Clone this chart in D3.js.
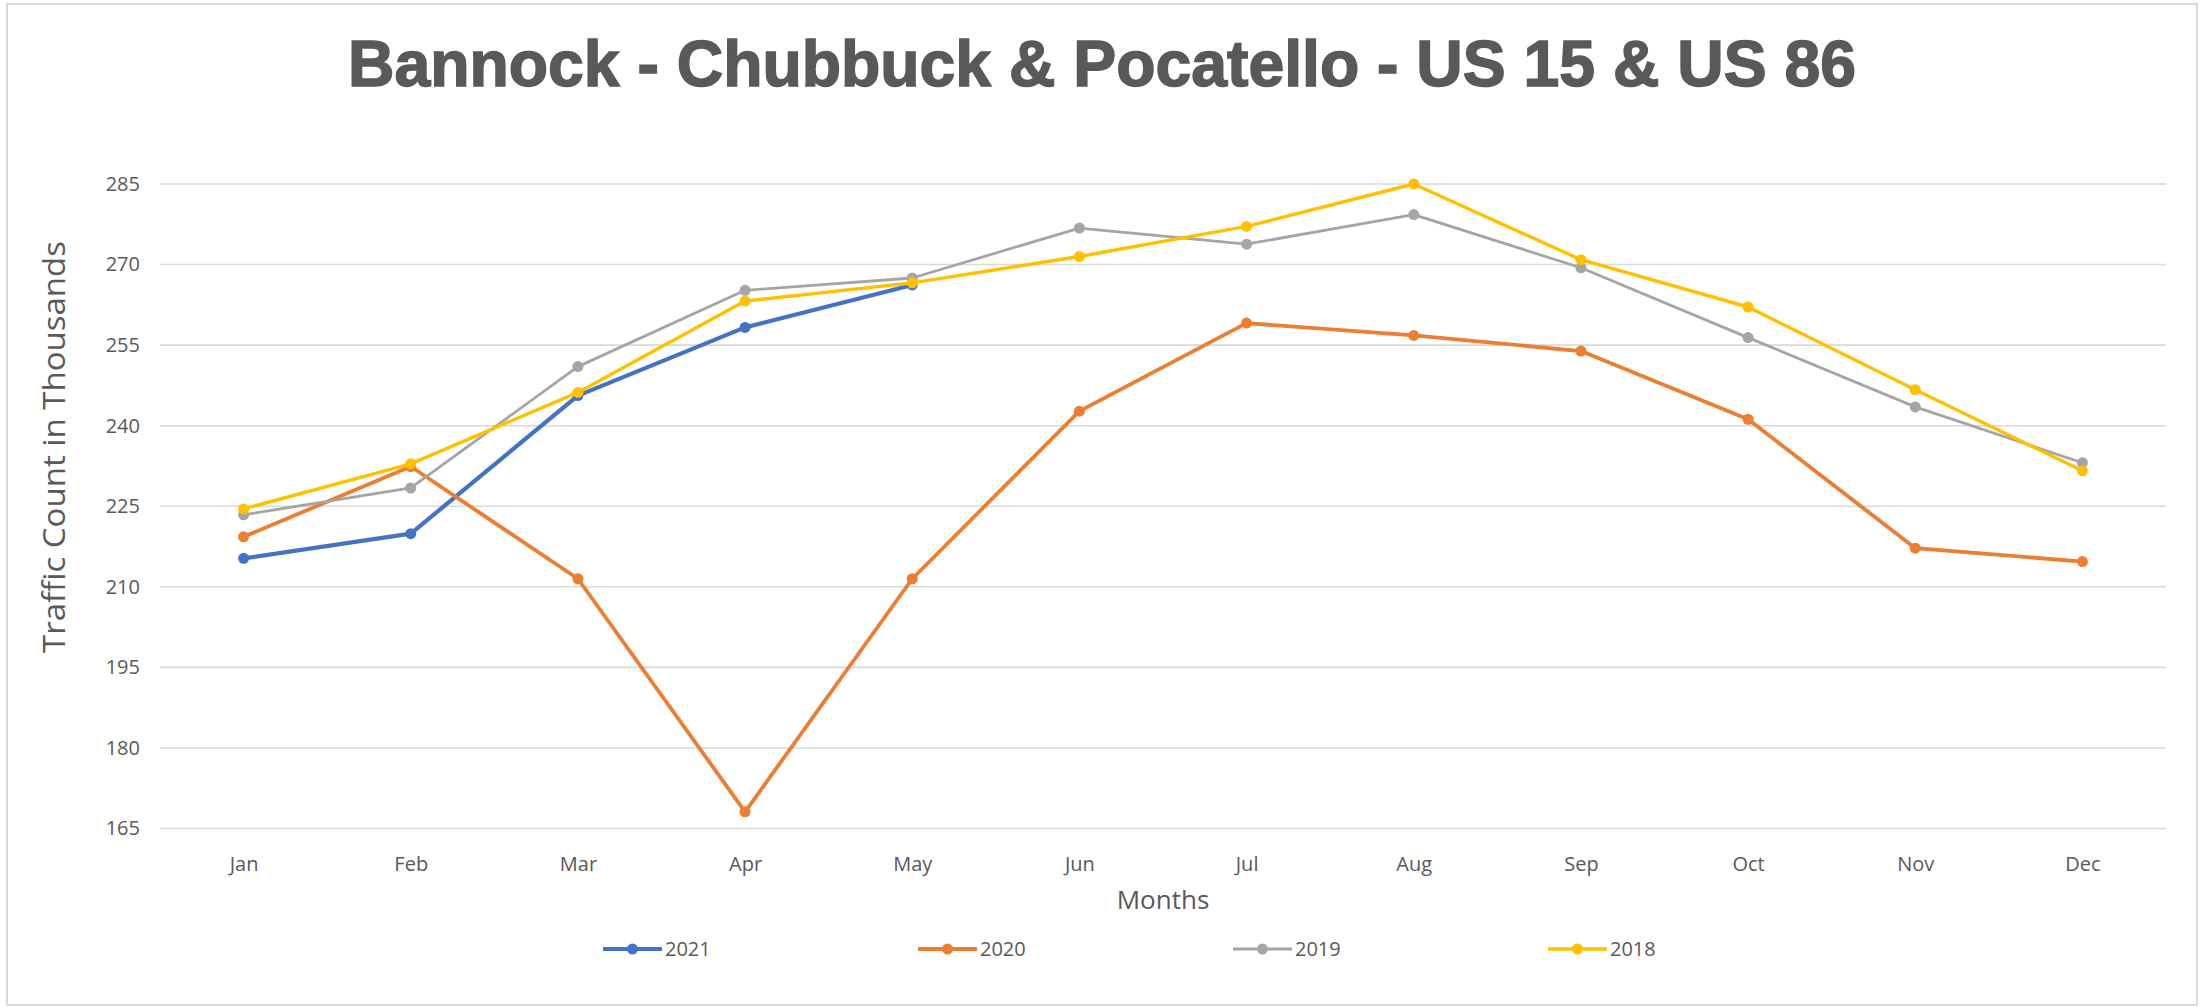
<!DOCTYPE html>
<html>
<head>
<meta charset="utf-8">
<script src="https://cdn.jsdelivr.net/npm/d3@7"></script>
<style>
  html, body { margin: 0; padding: 0; background: #fff; }
  svg { display: block; }
  text { font-family: "Open Sans", "Liberation Sans", sans-serif; fill: #595959; }
</style>
</head>
<body>
<svg id="chart" width="2201" height="1007"></svg>
<script>
// Data (thousands)
const months = ['Jan', 'Feb', 'Mar', 'Apr', 'May', 'Jun', 'Jul', 'Aug', 'Sep', 'Oct', 'Nov', 'Dec'];
const yTicks = [165, 180, 195, 210, 225, 240, 255, 270, 285];
const seriesNames = ['2021', '2020', '2019', '2018'];
const seriesColors = ['#4472C4', '#ED7D31', '#A5A5A5', '#FFC000'];
const seriesWidths = [4.2, 3.8, 2.8, 3.4];
const values2021 = [215.3, 219.9, 245.6, 258.3, 266.2];
const values2020 = [219.3, 232.4, 211.5, 168.1, 211.5, 242.7, 259.1, 256.8, 253.9, 241.2, 217.2, 214.7];
const values2019 = [223.4, 228.4, 251.0, 265.2, 267.5, 276.8, 273.8, 279.3, 269.4, 256.4, 243.5, 233.1];
const values2018 = [224.5, 232.9, 246.2, 263.2, 266.6, 271.5, 277.1, 285.0, 270.9, 262.1, 246.7, 231.6];
const allValues = [values2021, values2020, values2019, values2018];

const svg = d3.select('#chart');

// Outer frame
svg.append('rect')
    .attr('x', 7).attr('y', 4)
    .attr('width', 2190).attr('height', 1001)
    .attr('fill', '#fff')
    .attr('stroke', '#d9d9d9')
    .attr('stroke-width', 2);

// Plot area
const plotLeft = 160, plotRight = 2166, plotTop = 184, plotBottom = 828.5;

const x = d3.scalePoint()
    .domain(months)
    .range([plotLeft, plotRight])
    .padding(0.5);

const y = d3.scaleLinear()
    .domain([165, 285])
    .range([plotBottom, plotTop]);

// Title
svg.append('text')
    .attr('x', 1102)
    .attr('y', 86)
    .attr('text-anchor', 'middle')
    .attr('textLength', 1508)
    .attr('lengthAdjust', 'spacingAndGlyphs')
    .style('font-family', '"Liberation Sans", Arial, sans-serif')
    .style('font-weight', 'bold')
    .style('font-size', '64px')
    .style('stroke', '#595959')
    .style('stroke-width', '1.5px')
    .text('Bannock - Chubbuck & Pocatello - US 15 & US 86');

// Gridlines
svg.append('g')
    .selectAll('line')
    .data(yTicks)
    .enter()
    .append('line')
    .attr('x1', plotLeft)
    .attr('x2', plotRight)
    .attr('y1', d => y(d))
    .attr('y2', d => y(d))
    .attr('stroke', '#d9d9d9')
    .attr('stroke-width', 1.6);

// Y axis labels
const yAxis = d3.axisLeft(y).tickValues(yTicks).tickSize(0).tickPadding(20);
const yg = svg.append('g')
    .attr('transform', `translate(${plotLeft},0)`)
    .call(yAxis);
yg.select('.domain').remove();
yg.selectAll('text')
    .style('font-size', '20px')
    .attr('fill', '#595959');

// X axis labels
const xAxis = d3.axisBottom(x).tickSize(0).tickPadding(28);
const xg = svg.append('g')
    .attr('transform', `translate(0,${plotBottom})`)
    .call(xAxis);
xg.select('.domain').remove();
xg.selectAll('text')
    .style('font-size', '20px')
    .attr('fill', '#595959');

// Axis titles
svg.append('text')
    .attr('x', (plotLeft + plotRight) / 2)
    .attr('y', 909)
    .attr('text-anchor', 'middle')
    .style('font-size', '26px')
    .text('Months');

svg.append('text')
    .attr('transform', 'translate(65,447) rotate(-90)')
    .attr('text-anchor', 'middle')
    .attr('textLength', 412)
    .attr('lengthAdjust', 'spacingAndGlyphs')
    .style('font-size', '31px')
    .text('Traffic Count in Thousands');

// Lines and markers
const line = d3.line()
    .x((d, i) => x(months[i]))
    .y(d => y(d));

allValues.forEach((vals, s) => {
    const g = svg.append('g').attr('class', 'series-' + seriesNames[s]);
    g.append('path')
        .datum(vals)
        .attr('d', line)
        .attr('fill', 'none')
        .attr('stroke', seriesColors[s])
        .attr('stroke-width', seriesWidths[s])
        .attr('stroke-linejoin', 'round')
        .attr('stroke-linecap', 'round');
    g.selectAll('circle')
        .data(vals)
        .enter()
        .append('circle')
        .attr('cx', (d, i) => x(months[i]))
        .attr('cy', d => y(d))
        .attr('r', 5.5)
        .attr('fill', seriesColors[s]);
});

// Legend
const legendX = d3.scalePoint()
    .domain(seriesNames)
    .range([603, 1548]);
const legend = svg.append('g')
    .selectAll('g')
    .data(seriesNames)
    .enter()
    .append('g')
    .attr('transform', d => `translate(${legendX(d)},949)`);
legend.append('line')
    .attr('x1', 0).attr('x2', 59)
    .attr('y1', 0).attr('y2', 0)
    .attr('stroke', (d, i) => seriesColors[i])
    .attr('stroke-width', (d, i) => seriesWidths[i]);
legend.append('circle')
    .attr('cx', 29.5).attr('cy', 0).attr('r', 5.5)
    .attr('fill', (d, i) => seriesColors[i]);
legend.append('text')
    .attr('x', 62)
    .attr('y', 7)
    .style('font-size', '20px')
    .text(d => d);
</script>
</body>
</html>
